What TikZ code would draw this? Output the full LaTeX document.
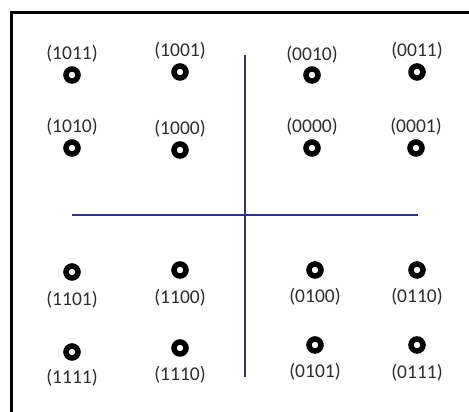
\documentclass[tikz,border=0pt]{standalone}
\usepackage{fontspec}
\setmainfont{Carlito}
\usepackage{xcolor}
\usepackage{tikz}
\usetikzlibrary{positioning}
\definecolor{AxisNavy}{RGB}{52, 50, 120}
\definecolor{LabelGray}{RGB}{45, 45, 45}

\begin{document}
\begin{tikzpicture}[
    x=1pt, y=1pt,
    font=\fontsize{19.5}{22}\selectfont,
    pointdot/.style={circle, draw=black, line width=5.5pt, minimum size=12pt, inner sep=0pt},
    codelabel/.style={inner sep=0pt, text=LabelGray},
    axisline/.style={draw=AxisNavy, line width=1.2pt},
    framebox/.style={draw=black, line width=3pt}
]
    \useasboundingbox[fill=white] (0,0) rectangle (469,412);

    % Frame (only top and left edges are in view)
    \draw[framebox] (11,-2) |- (471,399);

    % Axes
    \coordinate (vtop) at (245,357);
    \coordinate (vbot) at (245,35);
    \coordinate (hleft) at (72,197);
    \coordinate (hright) at (418,197);
    \draw[axisline] (vtop) -- (vbot);
    \draw[axisline] (hleft) -- (hright);

    % Upper left quadrant
    \node[pointdot] (d1011) at (72,337) {};
    \node[pointdot] (d1001) at (180,340) {};
    \node[pointdot] (d1010) at (72,264) {};
    \node[pointdot] (d1000) at (180,262) {};
    \node[codelabel, above=4pt of d1011] (l1011) {(1011)};
    \node[codelabel, above=4pt of d1001] (l1001) {(1001)};
    \node[codelabel, above=4pt of d1010] (l1010) {(1010)};
    \node[codelabel, above=4pt of d1000] (l1000) {(1000)};

    % Upper right quadrant
    \node[pointdot] (d0010) at (312,337) {};
    \node[pointdot] (d0011) at (417,340) {};
    \node[pointdot] (d0000) at (312,264) {};
    \node[pointdot] (d0001) at (416,264) {};
    \node[codelabel, above=3pt of d0010] (l0010) {(0010)};
    \node[codelabel, above=4pt of d0011] (l0011) {(0011)};
    \node[codelabel, above=4pt of d0000] (l0000) {(0000)};
    \node[codelabel, above=4pt of d0001] (l0001) {(0001)};

    % Lower left quadrant
    \node[pointdot] (d1101) at (72,140) {};
    \node[pointdot] (d1100) at (180,142) {};
    \node[pointdot] (d1111) at (72,60) {};
    \node[pointdot] (d1110) at (180,64) {};
    \node[codelabel, below=10pt of d1101] (l1101) {(1101)};
    \node[codelabel, below=10pt of d1100] (l1100) {(1100)};
    \node[codelabel, below=8pt of d1111] (l1111) {(1111)};
    \node[codelabel, below=9pt of d1110] (l1110) {(1110)};

    % Lower right quadrant
    \node[pointdot] (d0100) at (315,142) {};
    \node[pointdot] (d0110) at (417,142) {};
    \node[pointdot] (d0101) at (315,67) {};
    \node[pointdot] (d0111) at (417,67) {};
    \node[codelabel, below=9pt of d0100] (l0100) {(0100)};
    \node[codelabel, below=9pt of d0110] (l0110) {(0110)};
    \node[codelabel, below=9pt of d0101] (l0101) {(0101)};
    \node[codelabel, below=10pt of d0111] (l0111) {(0111)};

\end{tikzpicture}
\end{document}
